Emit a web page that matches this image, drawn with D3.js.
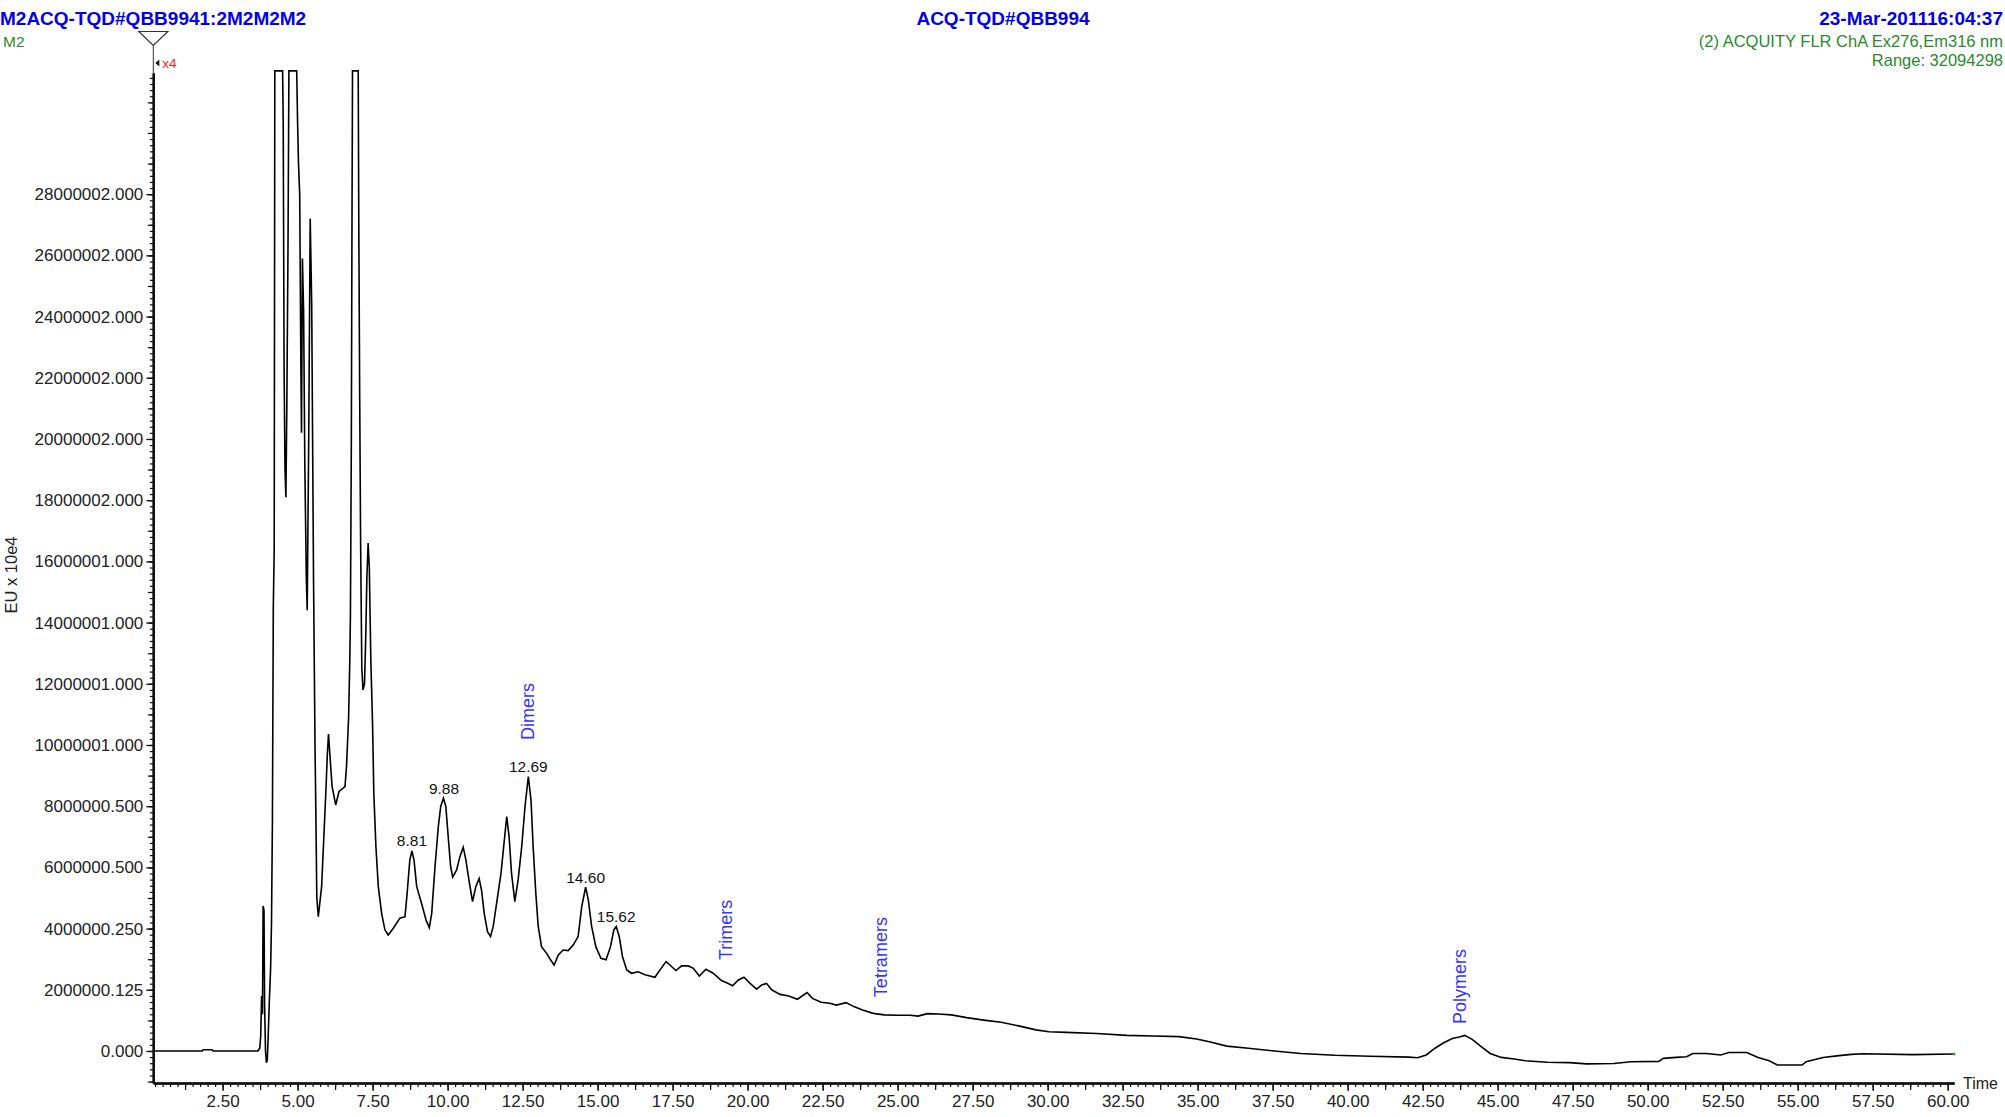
<!DOCTYPE html>
<html>
<head>
<meta charset="utf-8">
<script src="https://cdn.jsdelivr.net/npm/d3@7"></script>
<style>
  html, body { margin: 0; padding: 0; background: #fff; }
  svg { display: block; font-family: "Liberation Sans", Arial, sans-serif; }
</style>
</head>
<body>
<div id="chart"></div>
<script>

// ---- Chart values (time in min, signal in units of 1e6 EU) ----

// baseline, injection spike and the first clipped peaks
const trace_start = [
  [0.19, 0], [1.82, 0], [1.85, 0.04], [2.15, 0.04], [2.18, 0], [3.68, 0],
  [3.74, 0.1], [3.77, 0.5], [3.8, 1.8], [3.83, 1.2], [3.85, 4.74], [3.88, 4.6],
  [3.9, 1.5], [3.93, 0], [3.96, -0.38], [3.99, -0.3], [4.02, 0.5], [4.06, 1.7],
  [4.1, 2.7], [4.13, 4.2], [4.16, 7.5], [4.19, 14.5], [4.22, 16.4], [4.24, 32.03],
  [4.5, 32.03], [4.52, 30.4], [4.55, 22.2], [4.58, 19.0], [4.61, 18.1], [4.64, 21],
  [4.68, 26.3], [4.71, 32.03], [4.97, 32.03], [5.0, 30.3], [5.03, 29.0], [5.07, 28.0],
  [5.11, 22.2], [5.13, 20.2], [5.16, 25.9], [5.2, 24.2], [5.24, 19.2], [5.29, 15.5],
  [5.32, 14.4], [5.37, 20.0], [5.42, 27.2], [5.47, 24.4], [5.53, 15.5], [5.58, 10.0],
  [5.61, 7.66], [5.64, 5.0], [5.69, 4.39],
];

// monomer / dimer region
const trace_peaks = [
  [5.8, 5.37], [5.94, 8.42], [5.99, 9.68], [6.03, 10.36], [6.08, 9.62], [6.15, 8.64],
  [6.27, 8.04], [6.38, 8.48], [6.58, 8.64], [6.63, 9.3], [6.7, 10.9], [6.74, 12.8],
  [6.76, 14.2], [6.79, 19.7], [6.81, 26.3], [6.83, 32.03], [7.02, 32.03], [7.04, 26.9],
  [7.07, 21.3], [7.1, 16.6], [7.14, 12.5], [7.18, 11.8], [7.23, 12.0], [7.27, 13.5],
  [7.31, 15.5], [7.35, 16.6], [7.39, 15.8], [7.44, 12.8], [7.5, 10.6], [7.54, 8.42],
  [7.61, 6.68], [7.69, 5.37], [7.8, 4.5], [7.91, 3.96], [8.02, 3.79], [8.19, 4.01],
  [8.41, 4.34], [8.58, 4.39], [8.65, 5.15], [8.74, 6.24], [8.81, 6.54], [8.88, 6.24],
  [8.97, 5.37], [9.13, 4.83], [9.28, 4.28], [9.39, 4.03], [9.47, 4.5], [9.58, 6.03],
  [9.69, 7.33], [9.77, 7.99], [9.86, 8.26], [9.94, 7.99], [10.02, 7.0], [10.1, 6.03],
  [10.17, 5.68], [10.3, 5.92], [10.41, 6.35], [10.52, 6.66], [10.61, 6.24], [10.71, 5.59],
  [10.83, 4.88], [10.94, 5.37], [11.05, 5.64], [11.13, 5.26], [11.22, 4.5], [11.33, 3.9],
  [11.43, 3.74], [11.52, 4.07], [11.65, 4.94], [11.78, 5.81], [11.88, 6.79], [11.97, 7.66],
  [12.05, 7.0], [12.13, 5.81], [12.24, 4.88], [12.35, 5.59], [12.47, 6.68], [12.58, 7.99],
  [12.69, 8.97], [12.78, 8.2], [12.85, 6.68], [12.94, 5.15], [13.02, 4.07], [13.13, 3.41],
  [13.3, 3.19], [13.43, 2.98], [13.55, 2.81], [13.69, 3.14], [13.85, 3.3], [14.02, 3.28],
  [14.19, 3.47], [14.35, 3.74], [14.47, 4.72], [14.6, 5.35], [14.69, 4.94], [14.8, 4.07],
  [14.94, 3.41], [15.11, 3.03], [15.28, 2.98], [15.43, 3.41], [15.54, 3.96], [15.62, 4.07],
  [15.72, 3.74], [15.83, 3.08], [15.97, 2.65],
];

// trimers / tetramers
const trace_oligomers = [
  [16.13, 2.54], [16.35, 2.59], [16.58, 2.49], [16.91, 2.41], [17.08, 2.65], [17.28, 2.92],
  [17.41, 2.81], [17.61, 2.63], [17.8, 2.78], [18.02, 2.78], [18.19, 2.7], [18.39, 2.45],
  [18.61, 2.67], [18.85, 2.54], [19.13, 2.3], [19.3, 2.23], [19.5, 2.13], [19.69, 2.32],
  [19.88, 2.41], [20.08, 2.21], [20.3, 2.02], [20.47, 2.16], [20.63, 2.21], [20.8, 2.0],
  [21.08, 1.85], [21.37, 1.8], [21.66, 1.69], [21.98, 1.91], [22.16, 1.72], [22.45, 1.59],
  [22.74, 1.56], [22.96, 1.5], [23.28, 1.58], [23.54, 1.45], [23.83, 1.34], [24.19, 1.23],
  [24.55, 1.18], [24.98, 1.17], [25.42, 1.17], [25.68, 1.14], [25.99, 1.22], [26.36, 1.21],
  [26.79, 1.18], [27.3, 1.09], [27.87, 1.01], [28.45, 0.94], [29.03, 0.82], [29.61, 0.69],
  [30.04, 0.63], [30.62, 0.61], [31.63, 0.57], [32.64, 0.51], [33.51, 0.49], [34.38, 0.47],
  [34.96, 0.39], [35.39, 0.3], [35.97, 0.16], [36.69, 0.09], [37.56, 0.0], [38.43, -0.08],
  [39.58, -0.14], [40.74, -0.17],
];

// polymer hump and end of run
const trace_tail = [
  [42.04, -0.2], [42.33, -0.22], [42.62, -0.13], [42.91, 0.09], [43.2, 0.27], [43.49, 0.41],
  [43.72, 0.46], [43.9, 0.51], [44.15, 0.38], [44.45, 0.14], [44.75, -0.08], [45.12, -0.21],
  [45.55, -0.26], [45.92, -0.32], [46.65, -0.37], [47.38, -0.38], [47.97, -0.42], [48.87, -0.41],
  [49.44, -0.35], [50.37, -0.34], [50.52, -0.24], [50.95, -0.21], [51.3, -0.19], [51.5, -0.08],
  [51.95, -0.08], [52.44, -0.13], [52.7, -0.05], [53.3, -0.05], [53.68, -0.21], [54.05, -0.32],
  [54.32, -0.46], [55.15, -0.46], [55.28, -0.35], [55.85, -0.21], [56.38, -0.15], [56.79, -0.11],
  [57.18, -0.09], [58.84, -0.12], [60.21, -0.1],
];

// y tick labels at 0, 2, 4 ... 28 (x 1e6)
const y_tick_values = [0, 2, 4, 6, 8, 10, 12, 14, 16, 18, 20, 22, 24, 26, 28];
const y_tick_labels = [
  '0.000', '2000000.125', '4000000.250', '6000000.500', '8000000.500',
  '10000001.000', '12000001.000', '14000001.000', '16000001.000', '18000002.000',
  '20000002.000', '22000002.000', '24000002.000', '26000002.000', '28000002.000',
];

// labelled apex times
const peak_labels = [
  {label: '8.81', t: 8.81, v: 6.54},
  {label: '9.88', t: 9.88, v: 8.26},
  {label: '12.69', t: 12.69, v: 8.97},
  {label: '14.60', t: 14.6, v: 5.35},
  {label: '15.62', t: 15.62, v: 4.07},
];

// vertical region names (t, v = where the text starts)
const region_labels = [
  {label: 'Dimers', t: 12.68, v: 10.16},
  {label: 'Trimers', t: 19.29, v: 2.97},
  {label: 'Tetramers', t: 24.44, v: 1.76},
  {label: 'Polymers', t: 43.74, v: 0.88},
];

const header_left = 'M2ACQ-TQD#QBB9941:2M2M2M2';
const header_center = 'ACQ-TQD#QBB994';
const header_right = '23-Mar-201116:04:37';
const trace_name = 'M2';
const channel_info = ['(2) ACQUITY FLR ChA Ex276,Em316 nm', 'Range: 32094298'];


// Layout / style constants
const C = {
  width: 2005,
  height: 1117,
  margin: {left: 153.3, right: 51, top: 73, bottom: 34},
  x_domain: [0.19, 60.21],
  y_domain: [-1.046, 31.96],
  blue: '#0000f0',
  label_blue: '#3434ff',
  green: '#2a8a2a',
  text: '#222',
  tick_font: 17,
};

const svg = d3.select('#chart').append('svg')
  .attr('width', C.width)
  .attr('height', C.height);

const X = d3.scaleLinear()
  .domain(C.x_domain)
  .range([C.margin.left, C.width - C.margin.right]);

const Y = d3.scaleLinear()
  .domain(C.y_domain)
  .range([C.height - C.margin.bottom, C.margin.top]);


//------------------------------------------------------------
// Header texts
//------------------------------------------------------------
function draw_header(){
  const bold = {'font-size': 19, 'font-weight': 'bold', fill: C.blue};

  svg.append('text').text(header_left)
    .attr('x', 0).attr('y', 25)
    .attr('font-size', bold['font-size']).attr('font-weight', bold['font-weight']).attr('fill', bold.fill);

  svg.append('text').text(header_center)
    .attr('x', 1003).attr('y', 25).attr('text-anchor', 'middle')
    .attr('font-size', bold['font-size']).attr('font-weight', bold['font-weight']).attr('fill', bold.fill);

  svg.append('text').text(header_right)
    .attr('x', 2003).attr('y', 25).attr('text-anchor', 'end')
    .attr('font-size', bold['font-size']).attr('font-weight', bold['font-weight']).attr('fill', bold.fill);

  svg.append('text').text(trace_name)
    .attr('x', 3).attr('y', 47)
    .attr('font-size', 15.5).attr('fill', C.green);

  svg.selectAll('text.channel')
    .data(channel_info)
    .enter().append('text')
    .attr('class', 'channel')
    .text(d => d)
    .attr('x', 2003)
    .attr('y', (d, i) => 47 + i * 19)
    .attr('text-anchor', 'end')
    .attr('font-size', 16.5)
    .attr('fill', C.green);

  // y axis title
  svg.append('text').text('EU x 10e4')
    .attr('transform', 'translate(17,575) rotate(-90)')
    .attr('text-anchor', 'middle')
    .attr('font-size', 16.5)
    .attr('fill', C.text);
}


//------------------------------------------------------------
// Axes
//------------------------------------------------------------
function draw_axes(){
  const x0 = X.range()[0];
  const y_bottom = Y.range()[0];

  // minor / medium ticks of the y axis (every 0.2e6 and 1e6)
  const y_minor = d3.range(-1, 32, 0.2).filter(v => v >= C.y_domain[0] && v <= C.y_domain[1]);
  const y_medium = d3.range(-1, 32, 1);

  const y_axis_g = svg.append('g').attr('transform', `translate(${x0},0)`);

  y_axis_g.append('g')
    .call(d3.axisLeft(Y).tickValues(y_minor).tickSize(3.5).tickFormat('').tickSizeOuter(0));
  y_axis_g.append('g')
    .call(d3.axisLeft(Y).tickValues(y_medium).tickSize(5.5).tickFormat('').tickSizeOuter(0));
  y_axis_g.append('g')
    .call(d3.axisLeft(Y).tickValues(y_tick_values).tickSize(7).tickPadding(3)
      .tickFormat((d, i) => y_tick_labels[i]).tickSizeOuter(0));

  // x axis: 0.25 / 1.25 / 2.5 min ticks
  const x_minor = d3.range(0.25, 60.2, 0.25);
  const x_medium = d3.range(1.25, 60.2, 1.25);
  const x_major = d3.range(2.5, 60.1, 2.5);

  const x_axis_g = svg.append('g').attr('transform', `translate(0,${y_bottom})`);

  x_axis_g.append('g')
    .call(d3.axisBottom(X).tickValues(x_minor).tickSize(4).tickFormat('').tickSizeOuter(0));
  x_axis_g.append('g')
    .call(d3.axisBottom(X).tickValues(x_medium).tickSize(7).tickFormat('').tickSizeOuter(0));
  x_axis_g.append('g')
    .call(d3.axisBottom(X).tickValues(x_major).tickSize(8).tickPadding(4)
      .tickFormat(d3.format('.2f')).tickSizeOuter(0));

  // style all axis bits the same way
  svg.selectAll('.tick line').attr('stroke', '#111').attr('stroke-width', 1.2);
  svg.selectAll('.domain').attr('stroke', '#111').attr('stroke-width', 2.2);
  svg.selectAll('.tick text')
    .attr('font-size', C.tick_font)
    .attr('font-family', '"Liberation Sans", Arial, sans-serif')
    .attr('fill', C.text);

  svg.append('text').text('Time')
    .attr('x', X.range()[1] + 9)
    .attr('y', y_bottom + 5.5)
    .attr('font-size', 16)
    .attr('fill', C.text);

  // marker at top of the trace axis: open triangle, stem, and scale flag
  const top = Y.range()[1];
  svg.append('path')
    .attr('d', `M${x0 - 14.5},31.5 L${x0 + 14.5},31.5 L${x0},45.5 Z`)
    .attr('fill', 'white').attr('stroke', '#333').attr('stroke-width', 1.2);
  svg.append('line')
    .attr('x1', x0).attr('x2', x0).attr('y1', 45.5).attr('y2', top)
    .attr('stroke', '#333').attr('stroke-width', 1);
  svg.append('path')
    .attr('d', `M${x0 + 2},63 L${x0 + 6},59.5 L${x0 + 6},66.5 Z`)
    .attr('fill', '#111');
  svg.append('text').text('x4')
    .attr('x', x0 + 9).attr('y', 68)
    .attr('font-size', 13.5).attr('fill', '#ff1a1a');
}


//------------------------------------------------------------
// Trace and annotations
//------------------------------------------------------------
function draw_trace(){
  const trace = [...trace_start, ...trace_peaks, ...trace_oligomers, ...trace_tail];

  const line = d3.line()
    .x(d => X(d[0]))
    .y(d => Y(d[1]));

  svg.append('path')
    .datum(trace)
    .attr('d', line)
    .attr('fill', 'none')
    .attr('stroke', '#000')
    .attr('stroke-width', 1.6)
    .attr('stroke-linejoin', 'miter');

  // small green end marker
  const last = trace[trace.length - 1];
  svg.append('circle')
    .attr('cx', X(last[0])).attr('cy', Y(last[1])).attr('r', 1.5)
    .attr('fill', '#22aa22');

  svg.selectAll('text.peak')
    .data(peak_labels)
    .enter().append('text')
    .attr('class', 'peak')
    .text(d => d.label)
    .attr('x', d => X(d.t))
    .attr('y', d => Y(d.v) - 4.5)
    .attr('text-anchor', 'middle')
    .attr('font-size', 15.5)
    .attr('fill', '#111');

  svg.selectAll('text.region')
    .data(region_labels)
    .enter().append('text')
    .attr('class', 'region')
    .text(d => d.label)
    .attr('transform', d => `translate(${X(d.t)},${Y(d.v)}) rotate(-90)`)
    .attr('dominant-baseline', 'central')
    .attr('font-size', 18)
    .attr('fill', C.label_blue);
}

draw_header();
draw_axes();
draw_trace();

</script>
</body>
</html>
